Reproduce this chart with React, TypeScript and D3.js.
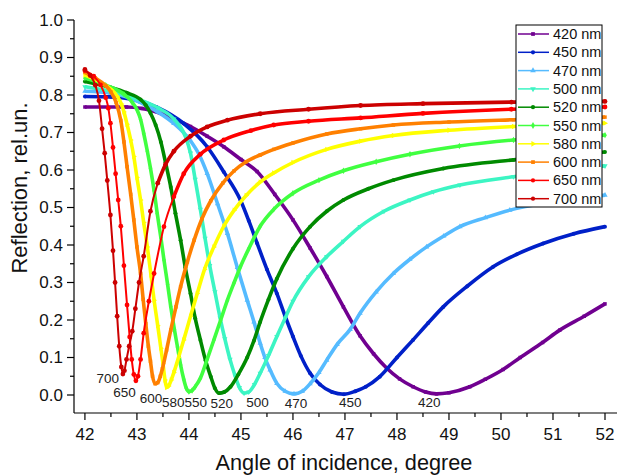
import React from "react";
import * as d3 from "d3";

type Pt = [number, number];

const xTickValues = [42, 43, 44, 45, 46, 47, 48, 49, 50, 51, 52];
const yTickValues = [0, 0.1, 0.2, 0.3, 0.4, 0.5, 0.6, 0.7, 0.8, 0.9, 1.0];

const r420: Pt[] = [[42.0,0.768],[42.8,0.768],[43.1,0.764],[43.39,0.754],[43.7,0.737],[44.03,0.716],[44.35,0.69],[44.67,0.662],[45.0,0.628],[45.31,0.596],[45.65,0.535],[46.0,0.467],[46.33,0.392],[46.65,0.316],[46.97,0.235],[47.29,0.158],[47.55,0.11],[47.8,0.072],[48.05,0.043],[48.31,0.022],[48.55,0.008],[48.76,0.003],[49.0,0.006],[49.4,0.022],[49.7,0.042],[50.04,0.068],[50.37,0.1],[50.8,0.14],[51.13,0.173],[51.6,0.21],[52.0,0.243]];
const r450: Pt[] = [[42.0,0.796],[42.5,0.795],[42.9,0.789],[43.39,0.767],[43.9,0.724],[44.35,0.662],[44.67,0.595],[44.99,0.52],[45.15,0.465],[45.31,0.405],[45.5,0.335],[45.69,0.271],[45.85,0.21],[46.0,0.156],[46.15,0.105],[46.33,0.058],[46.52,0.028],[46.75,0.008],[46.98,0.002],[47.2,0.01],[47.4,0.022],[47.67,0.049],[48.0,0.1],[48.31,0.147],[48.6,0.192],[48.89,0.235],[49.35,0.29],[49.85,0.342],[50.3,0.375],[50.81,0.404],[51.4,0.43],[52.0,0.449]];
const r470: Pt[] = [[42.0,0.81],[42.5,0.805],[43.07,0.78],[43.4,0.755],[43.71,0.724],[44.03,0.678],[44.2,0.64],[44.35,0.591],[44.55,0.51],[44.74,0.431],[44.93,0.34],[45.12,0.253],[45.25,0.195],[45.37,0.138],[45.46,0.1],[45.56,0.067],[45.69,0.031],[45.85,0.01],[46.02,0.003],[46.18,0.01],[46.33,0.03],[46.5,0.06],[46.65,0.093],[46.85,0.135],[47.1,0.175],[47.29,0.218],[47.6,0.275],[47.93,0.324],[48.25,0.362],[48.57,0.395],[48.9,0.424],[49.21,0.449],[49.7,0.473],[50.17,0.493],[51.0,0.515],[52.0,0.533]];
const r500: Pt[] = [[42.0,0.822],[42.5,0.81],[43.0,0.79],[43.4,0.766],[43.71,0.736],[43.93,0.69],[44.03,0.645],[44.12,0.575],[44.22,0.495],[44.31,0.418],[44.4,0.345],[44.5,0.275],[44.6,0.205],[44.69,0.15],[44.79,0.095],[44.89,0.05],[44.97,0.02],[45.06,0.005],[45.15,0.008],[45.26,0.028],[45.37,0.058],[45.53,0.105],[45.69,0.156],[45.85,0.205],[46.0,0.25],[46.3,0.315],[46.65,0.369],[46.97,0.41],[47.29,0.449],[47.75,0.49],[48.25,0.52],[48.7,0.542],[49.21,0.56],[50.24,0.582],[51.1,0.597],[52.0,0.611]];
const r520: Pt[] = [[42.0,0.836],[42.5,0.82],[42.8,0.806],[43.07,0.788],[43.17,0.773],[43.26,0.752],[43.36,0.72],[43.46,0.675],[43.55,0.62],[43.65,0.555],[43.74,0.485],[43.84,0.413],[43.93,0.34],[44.03,0.271],[44.12,0.205],[44.22,0.147],[44.32,0.092],[44.42,0.049],[44.5,0.018],[44.58,0.005],[44.68,0.008],[44.8,0.022],[44.95,0.055],[45.12,0.1],[45.25,0.145],[45.37,0.195],[45.53,0.255],[45.69,0.31],[46.0,0.39],[46.33,0.449],[46.65,0.49],[46.97,0.52],[47.45,0.55],[47.93,0.573],[48.89,0.604],[50.24,0.627],[51.1,0.638],[52.0,0.648]];
const r550: Pt[] = [[42.0,0.845],[42.4,0.826],[42.75,0.802],[42.9,0.782],[43.01,0.758],[43.07,0.735],[43.13,0.698],[43.2,0.65],[43.26,0.605],[43.33,0.545],[43.39,0.484],[43.46,0.42],[43.52,0.36],[43.59,0.295],[43.65,0.236],[43.72,0.175],[43.78,0.128],[43.84,0.08],[43.9,0.042],[43.95,0.018],[44.0,0.009],[44.06,0.012],[44.12,0.022],[44.22,0.045],[44.35,0.095],[44.48,0.147],[44.61,0.2],[44.74,0.253],[44.87,0.3],[44.99,0.342],[45.15,0.39],[45.37,0.45],[45.63,0.495],[46.0,0.538],[46.5,0.573],[46.97,0.598],[47.6,0.622],[48.25,0.642],[49.2,0.664],[50.24,0.68],[51.1,0.688],[52.0,0.693]];
const r580: Pt[] = [[42.0,0.853],[42.3,0.834],[42.5,0.815],[42.62,0.797],[42.7,0.776],[42.75,0.755],[42.81,0.722],[42.88,0.68],[42.94,0.636],[43.0,0.58],[43.07,0.52],[43.13,0.46],[43.2,0.395],[43.27,0.32],[43.33,0.253],[43.4,0.185],[43.46,0.125],[43.5,0.085],[43.54,0.04],[43.57,0.02],[43.61,0.024],[43.66,0.04],[43.71,0.06],[43.8,0.1],[43.9,0.147],[44.03,0.21],[44.16,0.271],[44.3,0.335],[44.48,0.395],[44.67,0.45],[44.87,0.493],[45.1,0.532],[45.37,0.568],[45.63,0.592],[46.0,0.62],[46.65,0.655],[47.3,0.677],[47.93,0.692],[49.0,0.706],[50.24,0.716],[52.0,0.725]];
const r600: Pt[] = [[42.0,0.86],[42.2,0.845],[42.4,0.825],[42.5,0.808],[42.6,0.78],[42.69,0.732],[42.75,0.675],[42.81,0.609],[42.88,0.535],[42.94,0.467],[43.0,0.395],[43.07,0.324],[43.12,0.255],[43.17,0.19],[43.22,0.13],[43.26,0.09],[43.3,0.05],[43.35,0.03],[43.4,0.033],[43.45,0.05],[43.49,0.07],[43.57,0.12],[43.65,0.173],[43.75,0.235],[43.84,0.289],[43.97,0.355],[44.1,0.413],[44.25,0.47],[44.42,0.518],[44.65,0.565],[44.87,0.598],[45.1,0.622],[45.37,0.64],[45.63,0.655],[46.0,0.672],[46.65,0.696],[47.3,0.71],[47.93,0.72],[49.0,0.728],[50.24,0.734],[52.0,0.741]];
const r650: Pt[] = [[42.0,0.865],[42.17,0.85],[42.3,0.827],[42.4,0.793],[42.45,0.765],[42.49,0.725],[42.54,0.66],[42.59,0.59],[42.64,0.52],[42.69,0.45],[42.75,0.345],[42.81,0.24],[42.86,0.155],[42.9,0.095],[42.94,0.055],[42.98,0.038],[43.02,0.05],[43.07,0.095],[43.13,0.165],[43.23,0.25],[43.33,0.324],[43.52,0.449],[43.71,0.529],[43.9,0.59],[44.22,0.642],[44.67,0.68],[45.19,0.705],[45.63,0.72],[46.3,0.73],[47.3,0.739],[48.5,0.751],[50.2,0.762],[52.0,0.768]];
const r700: Pt[] = [[42.0,0.868],[42.1,0.852],[42.2,0.826],[42.27,0.785],[42.33,0.71],[42.38,0.645],[42.43,0.572],[42.49,0.48],[42.54,0.385],[42.58,0.3],[42.62,0.21],[42.66,0.13],[42.7,0.075],[42.73,0.056],[42.76,0.065],[42.8,0.095],[42.85,0.13],[42.91,0.17],[42.97,0.23],[43.04,0.3],[43.13,0.37],[43.26,0.49],[43.4,0.565],[43.55,0.615],[43.71,0.65],[44.03,0.69],[44.35,0.715],[44.74,0.733],[45.37,0.75],[46.3,0.762],[47.3,0.772],[48.5,0.777],[50.2,0.781],[52.0,0.783]];

const seriesNames = ["420 nm","450 nm","470 nm","500 nm","520 nm","550 nm","580 nm","600 nm","650 nm","700 nm"];
const seriesData = [r420, r450, r470, r500, r520, r550, r580, r600, r650, r700];
const seriesColors = ["#700090","#0020c8","#55bbff","#3cf5c3","#008a00","#40ff40","#ffff00","#ff8000","#ff0000","#cc0000"];
// angle from which the dense sampling of the thin red curves merges into a thick line
const denseFrom = [0, 0, 0, 0, 0, 0, 0, 0, 43.6, 43.35];
const minLabels = ["420","450","470","500","520","550","580","600","650","700"];
const minLabelPos: Pt[] = [[48.62,-0.033],[47.1,-0.033],[46.06,-0.035],[45.32,-0.033],[44.63,-0.034],[44.13,-0.033],[43.7,-0.033],[43.27,-0.022],[42.76,-0.005],[42.44,0.032]];

const symbols = [d3.symbolSquare, d3.symbolCircle, d3.symbolTriangle, d3.symbolTriangle, d3.symbolCircle, d3.symbolDiamond, d3.symbolTriangle, d3.symbolSquare, d3.symbolCircle, d3.symbolCircle];
const symRot = [0, 0, 0, 180, 0, 0, 90, 0, 0, 0];

const W = 617, H = 475;
const FONT = "Arial, 'Liberation Sans', sans-serif";

export default function App() {
  const x = d3.scaleLinear().domain([41.79, 52.25]).range([74, 618]);
  const y = d3.scaleLinear().domain([-0.048, 1.0]).range([413, 20]);
  const line = d3.line<Pt>().x(d => x(d[0])).y(d => y(d[1])).curve(d3.curveMonotoneX);
  const xMinor = d3.range(42, 52.01, 0.5).filter(v => Math.abs(v - Math.round(v)) > 0.1);
  const yMinor = d3.range(0.05, 1.0, 0.1);
  const legX = 516, legY = 25, legW = 86, legH = 182, rowH = 18.3;

  return (
    <svg width={W} height={H} style={{ position: "absolute", left: 0, top: 0, background: "#fff" }} fontFamily={FONT}>
      <rect width={W} height={H} fill="#fff" />
      {seriesData.map((data, i) => {
        const thin = i >= 8;
        const sym = d3.symbol().type(symbols[i]).size(thin ? 18 : 12)();
        const dense = thin ? data.filter(d => d[0] >= denseFrom[i]) : [];
        return (
          <g key={i}>
            <path d={line(data) || ""} fill="none" stroke={seriesColors[i]} strokeWidth={thin ? 2 : 3.6} strokeLinejoin="round" />
            {thin && <path d={line(dense) || ""} fill="none" stroke={seriesColors[i]} strokeWidth={3.6} strokeLinecap="round" />}
            {data.map((d, j) => (
              <path key={j} d={sym || ""} fill={seriesColors[i]}
                transform={`translate(${x(d[0])},${y(d[1])}) rotate(${symRot[i]})`} />
            ))}
          </g>
        );
      })}
      {minLabels.map((t, i) => (
        <text key={t} x={x(minLabelPos[i][0])} y={y(minLabelPos[i][1])} fontSize={13.5} textAnchor="middle" fill="#222">{t}</text>
      ))}
      <line x1={74} x2={74} y1={20} y2={413} stroke="#000" strokeWidth={1.2} />
      <line x1={74} x2={618} y1={413} y2={413} stroke="#000" strokeWidth={1.2} />
      {yTickValues.map(v => (
        <g key={v}>
          <line x1={67} x2={74} y1={y(v)} y2={y(v)} stroke="#000" strokeWidth={1.2} />
          <text x={63} y={y(v)} dy="0.35em" textAnchor="end" fontSize={17} fill="#111">{v.toFixed(1)}</text>
        </g>
      ))}
      {yMinor.map(v => (
        <line key={v} x1={70} x2={74} y1={y(v)} y2={y(v)} stroke="#000" strokeWidth={1.2} />
      ))}
      {xTickValues.map(v => (
        <g key={v}>
          <line x1={x(v)} x2={x(v)} y1={413} y2={420} stroke="#000" strokeWidth={1.2} />
          <text x={x(v)} y={440} textAnchor="middle" fontSize={17} fill="#111">{v}</text>
        </g>
      ))}
      {xMinor.map(v => (
        <line key={v} x1={x(v)} x2={x(v)} y1={413} y2={417} stroke="#000" strokeWidth={1.2} />
      ))}
      <text x={344} y={470} textAnchor="middle" fontSize={21.7} fill="#111">Angle of incidence, degree</text>
      <text transform={`translate(27,188) rotate(-90)`} textAnchor="middle" fontSize={22} fill="#111">Reflection, rel.un.</text>
      <rect x={legX} y={legY} width={legW} height={legH} fill="#fff" stroke="#000" strokeWidth={1} />
      {seriesNames.map((n, i) => {
        const cy = legY + 9 + i * rowH;
        const sym = d3.symbol().type(symbols[i]).size(14)();
        return (
          <g key={n}>
            <line x1={legX + 2} x2={legX + 33} y1={cy} y2={cy} stroke={seriesColors[i]} strokeWidth={1.5} />
            <path d={sym || ""} fill={seriesColors[i]} transform={`translate(${legX + 17},${cy}) rotate(${symRot[i]})`} />
            <text x={legX + 37} y={cy} dy="0.35em" fontSize={14.5} fill="#111">{n}</text>
          </g>
        );
      })}
    </svg>
  );
}
